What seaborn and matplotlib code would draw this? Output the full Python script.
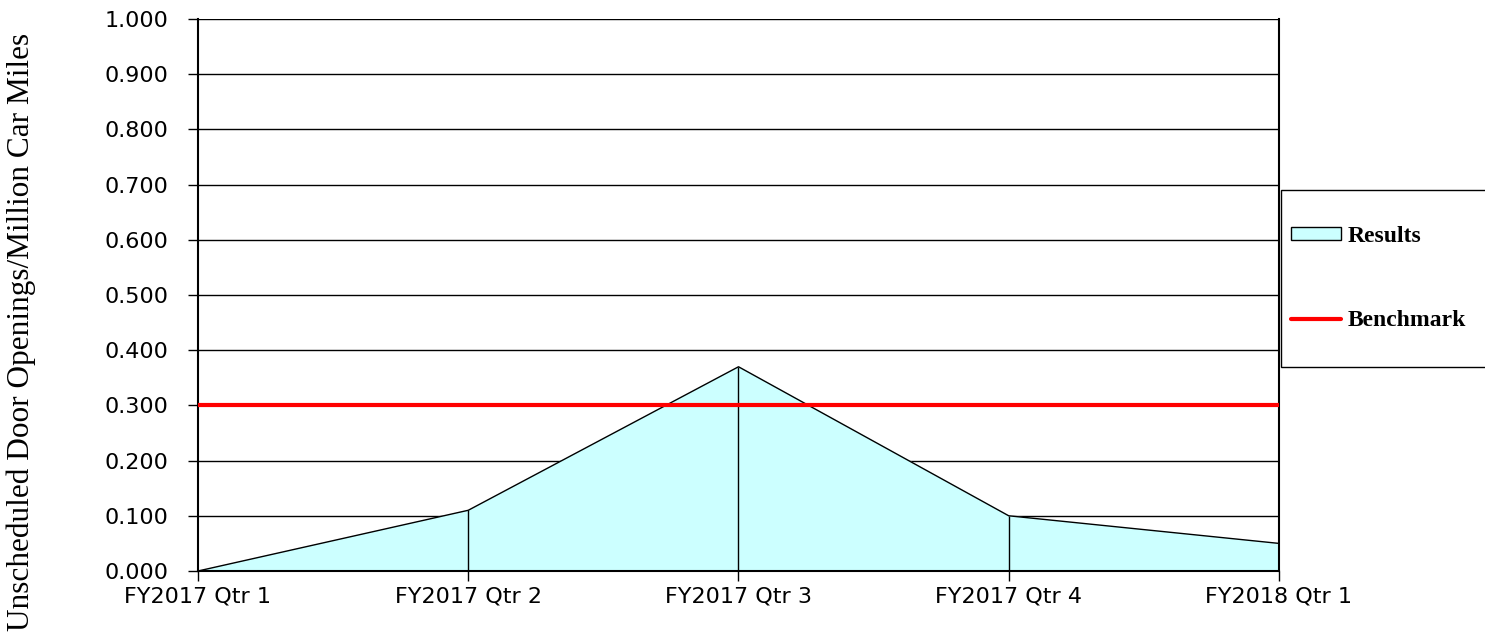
import numpy as np
import pandas as pd
import matplotlib
matplotlib.use('Agg')
import matplotlib.pyplot as plt
import seaborn as sns
from matplotlib.patches import Patch, Rectangle
from matplotlib.lines import Line2D

# Data
quarters = ['FY2017 Qtr 1', 'FY2017 Qtr 2', 'FY2017 Qtr 3', 'FY2017 Qtr 4', 'FY2018 Qtr 1']
results = [0.000, 0.110, 0.370, 0.100, 0.050]
benchmark = [0.300, 0.300, 0.300, 0.300, 0.300]
yticks = [0.0, 0.1, 0.2, 0.3, 0.4, 0.5, 0.6, 0.7, 0.8, 0.9, 1.0]

df = pd.DataFrame({'Quarter': quarters, 'Results': results, 'Benchmark': benchmark})
df['pos'] = range(len(df))

sns.set_style('white')
plt.rcParams['font.family'] = ['DejaVu Sans']
plt.rcParams['text.color'] = 'black'
plt.rcParams['axes.labelcolor'] = 'black'
plt.rcParams['xtick.color'] = 'black'
plt.rcParams['ytick.color'] = 'black'
serif = ['Liberation Serif', 'DejaVu Serif']

fig = plt.figure(figsize=(14.85, 6.41), dpi=100)
ax = fig.add_axes([198 / 1485, 1 - 571 / 641, (1279 - 198) / 1485, (571 - 19) / 641])

# grid lines
ax.set_ylim(0, 1.0)
ax.set_yticks(yticks)
ax.yaxis.grid(True, color='black', linewidth=1)
ax.set_axisbelow(True)

# area with outline and drop lines
ax.fill_between(df['pos'], df['Results'], color='#CCFFFF', zorder=2)
sns.lineplot(data=df, x='pos', y='Results', color='black', linewidth=1, ax=ax, zorder=3)
ax.vlines(df['pos'], 0, df['Results'], color='black', linewidth=1, zorder=3)

# benchmark
sns.lineplot(data=df, x='pos', y='Benchmark', color='red', linewidth=3, ax=ax, zorder=4)

ax.set_xlim(0, len(df) - 1)
ax.set_xticks(df['pos'])
ax.set_xticklabels(df['Quarter'], fontsize=16, color='black')
ax.set_yticklabels([f'{v:.3f}' for v in yticks], fontsize=16, color='black')
ax.set_xlabel('')
ax.set_ylabel('Unscheduled Door Openings/Million Car Miles', fontsize=22.5, family=serif,
              color='black')
ax.yaxis.set_label_coords(-0.150, 0.433)

for side in ['left', 'bottom', 'right']:
    ax.spines[side].set_visible(True)
    ax.spines[side].set_color('black')
    ax.spines[side].set_linewidth(1.5)
ax.spines['top'].set_visible(False)
ax.tick_params(axis='both', which='both', direction='out', length=7, width=1, color='black',
               left=True, bottom=True)
ax.tick_params(axis='x', pad=4)
ax.tick_params(axis='y', pad=14)

# legend box
fig.patches.append(Rectangle((1281 / 1485, 1 - 367 / 641), 220 / 1485, 177 / 641,
                             transform=fig.transFigure, facecolor='white',
                             edgecolor='black', linewidth=1))
handles = [Patch(facecolor='#CCFFFF', edgecolor='black', linewidth=1),
           Line2D([0], [0], color='red', linewidth=3)]
leg = fig.legend(handles, ['Results', 'Benchmark'], loc='center left',
                 bbox_to_anchor=(1291 / 1485, 1 - 278.5 / 641),
                 prop={'family': serif, 'weight': 'bold', 'size': 17},
                 frameon=False, borderpad=0, labelspacing=2.7,
                 handlelength=2.1, handleheight=0.5, handletextpad=0.3, borderaxespad=0)
for t in leg.get_texts():
    t.set_color('black')

fig.savefig('out.png', dpi=100)
